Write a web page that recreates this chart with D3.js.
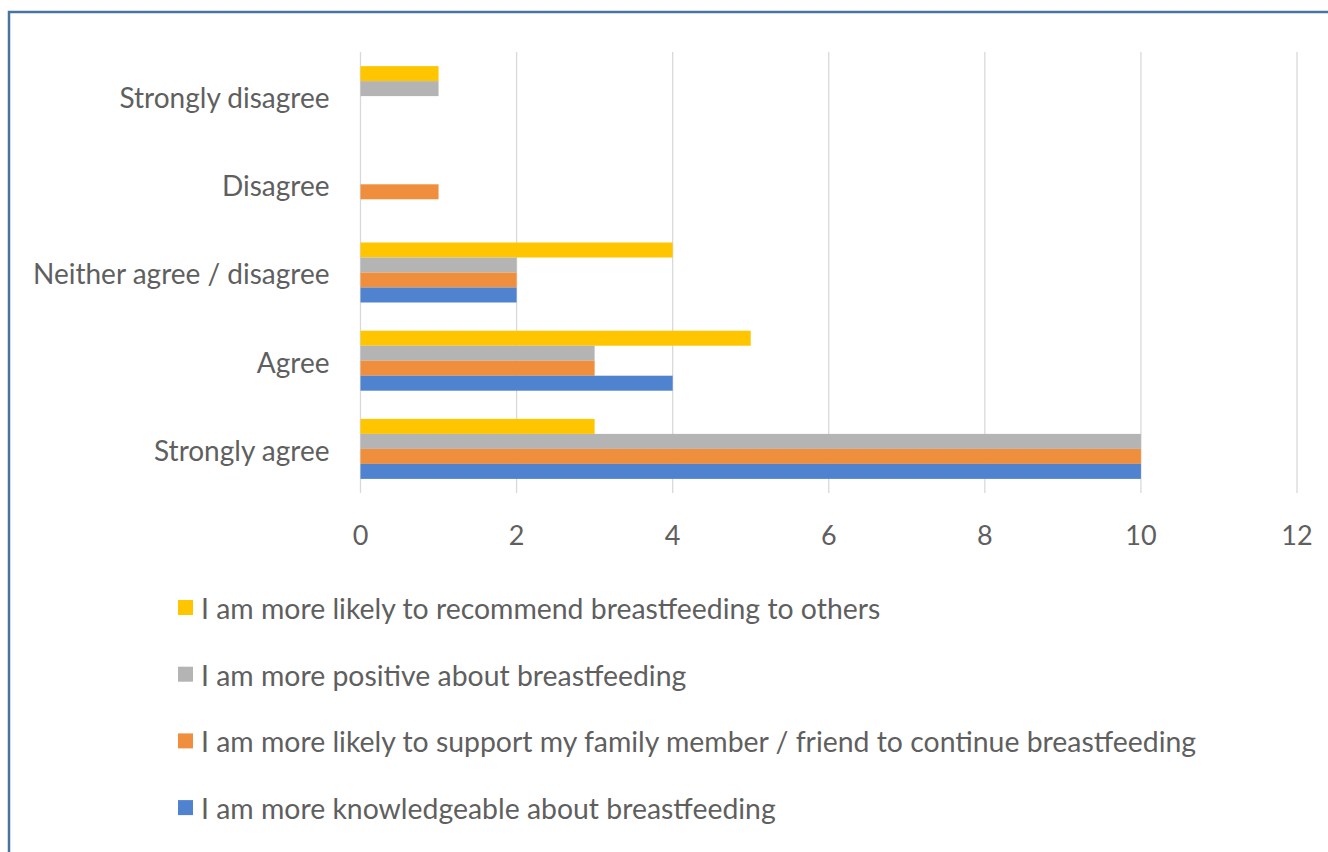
<!DOCTYPE html>
<html>
<head>
<meta charset="utf-8">
<script src="https://cdn.jsdelivr.net/npm/d3@7"></script>
<style>
  body { margin: 0; background: #fff; }
  text { font-family: Lato, "Open Sans", sans-serif; fill: #5F5F5F; }
</style>
</head>
<body>
<div id="chart"></div>
<script>
// 类别（从上到下）
const categories = ["Strongly disagree", "Disagree", "Neither agree / disagree", "Agree", "Strongly agree"];
// 系列名称（图中每组从上到下）
const seriesNames = [
    "I am more likely to recommend breastfeeding to others",
    "I am more positive about breastfeeding",
    "I am more likely to support my family member / friend to continue breastfeeding",
    "I am more knowledgeable about breastfeeding"
];
const recommendValues = [1, 0, 4, 5, 3];
const positiveValues = [1, 0, 2, 3, 10];
const supportValues = [0, 1, 2, 3, 10];
const knowledgeValues = [0, 0, 2, 4, 10];
const xTicks = [0, 2, 4, 6, 8, 10, 12];
const colors = ["#FFC600", "#B4B4B4", "#EF8F3D", "#4F82CF"];

const seriesValues = [recommendValues, positiveValues, supportValues, knowledgeValues];

// 画布设置
const W = 1328, H = 852;
const margin = {top: 52, left: 360.5, right: 31, bottom: 359};
const width = W - margin.left - margin.right,
    height = H - margin.top - margin.bottom;

const svg = d3.select("#chart")
    .append("svg")
    .attr("width", W)
    .attr("height", H);

// 外框
svg.append("rect")
    .attr("x", 9).attr("y", 12)
    .attr("width", 1400).attr("height", 1000)
    .attr("fill", "none")
    .attr("stroke", "#4A74A0")
    .attr("stroke-width", 2.5);

const g = svg.append("g")
    .attr("transform", `translate(${margin.left},${margin.top})`);

const x = d3.scaleLinear().domain([0, 12]).range([0, width]);
const y = d3.scaleBand().domain(categories).range([0, height]).paddingInner(0.32).paddingOuter(0.16);
const y1 = d3.scaleBand().domain(seriesNames).range([0, y.bandwidth()]);

// 网格线
g.selectAll(".grid")
    .data(xTicks)
    .join("line")
    .attr("class", "grid")
    .attr("x1", d => x(d)).attr("x2", d => x(d))
    .attr("y1", 0).attr("y2", height)
    .attr("stroke", "#D9D9D9")
    .attr("stroke-width", 1.3);

// X轴刻度
g.selectAll(".xlabel")
    .data(xTicks)
    .join("text")
    .attr("class", "xlabel")
    .attr("x", d => x(d))
    .attr("y", height + 52)
    .attr("text-anchor", "middle")
    .style("font-size", "27px")
    .text(d => d);

// Y轴类别
g.selectAll(".ylabel")
    .data(categories)
    .join("text")
    .attr("class", "ylabel")
    .attr("x", -31)
    .attr("y", d => y(d) + y.bandwidth() / 2 + 2)
    .attr("dy", "0.35em")
    .attr("text-anchor", "end")
    .style("font-size", "28px")
    .text(d => d);

// 柱子
const groups = g.selectAll(".cat")
    .data(categories)
    .join("g")
    .attr("class", "cat")
    .attr("transform", d => `translate(0,${y(d)})`);

groups.selectAll("rect")
    .data((c, ci) => seriesNames.map((s, si) => ({s, si, v: seriesValues[si][ci]})))
    .join("rect")
    .attr("x", 0)
    .attr("y", d => y1(d.s))
    .attr("width", d => x(d.v))
    .attr("height", y1.bandwidth())
    .attr("fill", d => colors[d.si]);

// 图例
const legend = svg.append("g")
    .attr("transform", "translate(178,600)");

const items = legend.selectAll(".legend")
    .data(seriesNames)
    .join("g")
    .attr("class", "legend")
    .attr("transform", (d, i) => `translate(0,${i * 66.7})`);

items.append("rect")
    .attr("width", 15).attr("height", 15)
    .attr("fill", (d, i) => colors[i]);

items.append("text")
    .attr("x", 23)
    .attr("y", 9)
    .attr("dy", "0.35em")
    .style("font-size", "28.4px")
    .text(d => d);
</script>
</body>
</html>
